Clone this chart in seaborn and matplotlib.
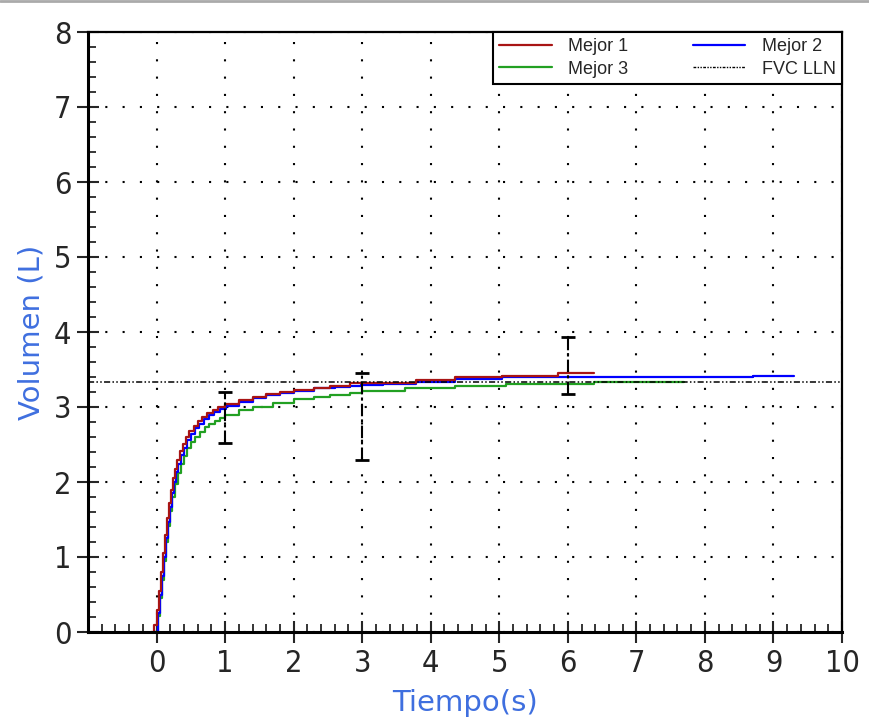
import numpy as np, pandas as pd, matplotlib
matplotlib.use('Agg')
import matplotlib.pyplot as plt
import seaborn as sns
from matplotlib.lines import Line2D
from matplotlib.ticker import MultipleLocator

# data (step curves)
t_m1 = [-0.08, -0.04, 0.0, 0.03, 0.06, 0.09, 0.12, 0.15, 0.18, 0.21, 0.24, 0.27, 0.3, 0.34, 0.38,
        0.43, 0.48, 0.54, 0.6, 0.67, 0.74, 0.82, 0.9, 1.0, 1.2, 1.4, 1.6, 1.8, 2.0, 2.3, 2.53,
        2.82, 3.79, 4.36, 5.04, 5.85, 6.38]
v_m1 = [0.0, 0.1, 0.3, 0.55, 0.8, 1.05, 1.3, 1.52, 1.72, 1.9, 2.05, 2.18, 2.29, 2.41, 2.51,
        2.6, 2.68, 2.75, 2.81, 2.87, 2.92, 2.96, 3.0, 3.04, 3.09, 3.13, 3.17, 3.2, 3.23, 3.26, 3.28,
        3.32, 3.36, 3.40, 3.42, 3.45, 3.45]

t_m2 = [-0.02, 0.02, 0.05, 0.08, 0.11, 0.14, 0.17, 0.2, 0.23, 0.26, 0.29, 0.32, 0.36, 0.4, 0.45,
        0.5, 0.56, 0.62, 0.69, 0.76, 0.84, 0.92, 1.02, 1.2, 1.4, 1.6, 1.8, 2.0, 2.3, 2.6, 2.82,
        2.99, 3.31, 3.79, 4.36, 5.04, 8.7, 9.3]
v_m2 = [0.0, 0.25, 0.5, 0.75, 1.0, 1.25, 1.47, 1.67, 1.85, 2.0, 2.13, 2.24, 2.36, 2.46, 2.56,
        2.64, 2.72, 2.78, 2.84, 2.89, 2.94, 2.98, 3.02, 3.07, 3.12, 3.16, 3.19, 3.22, 3.25, 3.27, 3.28,
        3.30, 3.31, 3.34, 3.37, 3.40, 3.42, 3.42]

t_m3 = [-0.03, 0.02, 0.05, 0.08, 0.11, 0.14, 0.17, 0.2, 0.23, 0.27, 0.31, 0.35, 0.4, 0.45, 0.5,
        0.56, 0.63, 0.7, 0.77, 0.85, 0.92, 1.0, 1.2, 1.4, 1.7, 2.0, 2.3, 2.53, 2.82, 3.0, 3.62,
        4.36, 5.1, 6.38, 7.7]
v_m3 = [0.0, 0.22, 0.46, 0.7, 0.95, 1.2, 1.42, 1.62, 1.8, 1.98, 2.12, 2.24, 2.35, 2.45, 2.53,
        2.6, 2.67, 2.73, 2.78, 2.82, 2.86, 2.9, 2.96, 3.0, 3.06, 3.11, 3.14, 3.16, 3.19, 3.22, 3.25,
        3.28, 3.31, 3.33, 3.33]

fvc_lln = 3.33

err_t = [1, 3, 6]
err_low = [2.52, 2.29, 3.17]
err_high = [3.20, 3.45, 3.93]

sns.set_style('white')
plt.rcParams['font.family'] = ['Liberation Sans', 'DejaVu Sans']

fig = plt.figure(figsize=(8.69, 7.22), dpi=100)
ax = fig.add_axes([88/869, 1-632/722, 754/869, 600/722])

red, blue, green = '#a81414', '#0000ff', '#22a022'
for t, v, c in [(t_m3, v_m3, green), (t_m2, v_m2, blue), (t_m1, v_m1, red)]:
    d = pd.DataFrame({'t': t, 'v': v})
    sns.lineplot(data=d, x='t', y='v', color=c, lw=1.6, drawstyle='steps-post',
                 estimator=None, sort=False, ax=ax)

ax.axhline(fvc_lln, color='black', lw=1.1, dashes=(4, 1.5, 1, 1.5, 1, 1.5), zorder=4)

mid = (np.array(err_low) + np.array(err_high)) / 2
half = (np.array(err_high) - np.array(err_low)) / 2
eb = ax.errorbar(err_t, mid, yerr=half, fmt='none', ecolor='black', elinewidth=1.5,
                 capsize=5, capthick=2, zorder=5)
eb[2][0].set_linestyle((0, (6, 1.5, 1.5, 1.5)))

ax.set_xlim(-1, 10)
ax.set_ylim(0, 8)
ax.xaxis.set_major_locator(MultipleLocator(1))
ax.yaxis.set_major_locator(MultipleLocator(1))
ax.xaxis.set_minor_locator(MultipleLocator(0.2))
ax.yaxis.set_minor_locator(MultipleLocator(0.2))
ax.set_xticks(range(0, 11))
ax.set_xticklabels([str(i) for i in range(0, 11)])
ax.grid(True, which='major', color='black', lw=1.5, linestyle=(0, (1, 7.3)))
ax.tick_params(which='major', direction='inout', length=16, width=1.5, labelsize=22, pad=4,
               bottom=True, left=True, top=False, right=False)
ax.tick_params(which='minor', direction='in', length=6, width=1.3,
               bottom=True, left=True, top=False, right=False)
for lab in ax.get_xticklabels() + ax.get_yticklabels():
    lab.set_family(['DejaVu Sans'])
    lab.set_stretch('condensed')

for s in ['left', 'bottom']:
    ax.spines[s].set_linewidth(2.2)
for s in ['top', 'right']:
    ax.spines[s].set_linewidth(1.6)
for s in ax.spines.values():
    s.set_color('black')

lab_col = '#3f6fdf'
ax.set_xlabel('Tiempo(s)', fontsize=21, color=lab_col, labelpad=8, family='DejaVu Sans')
ax.set_ylabel('Volumen (L)', fontsize=21, color=lab_col, labelpad=6, family='DejaVu Sans')

handles = [Line2D([], [], color=red, lw=1.6),
           Line2D([], [], color=green, lw=1.6),
           Line2D([], [], color=blue, lw=1.6),
           Line2D([], [], color='black', lw=1.0, dashes=(2, 1, 1, 1, 1, 1))]
labels = ['Mejor 1', 'Mejor 3', 'Mejor 2', 'FVC LLN']
leg = ax.legend(handles, labels, ncol=2, loc='upper right', bbox_to_anchor=(1.0, 1.0),
                borderaxespad=0, fontsize=13, handlelength=2.9, handletextpad=0.9,
                columnspacing=3.6, labelspacing=0.3, borderpad=0.35, fancybox=False, framealpha=1)
leg.get_frame().set_edgecolor('black')
leg.get_frame().set_linewidth(1.5)

fig.add_artist(Line2D([0, 1], [0.998, 0.998], color='#aaaaaa', lw=2, transform=fig.transFigure))

plt.savefig('out.png', dpi=100)
plt.close()
